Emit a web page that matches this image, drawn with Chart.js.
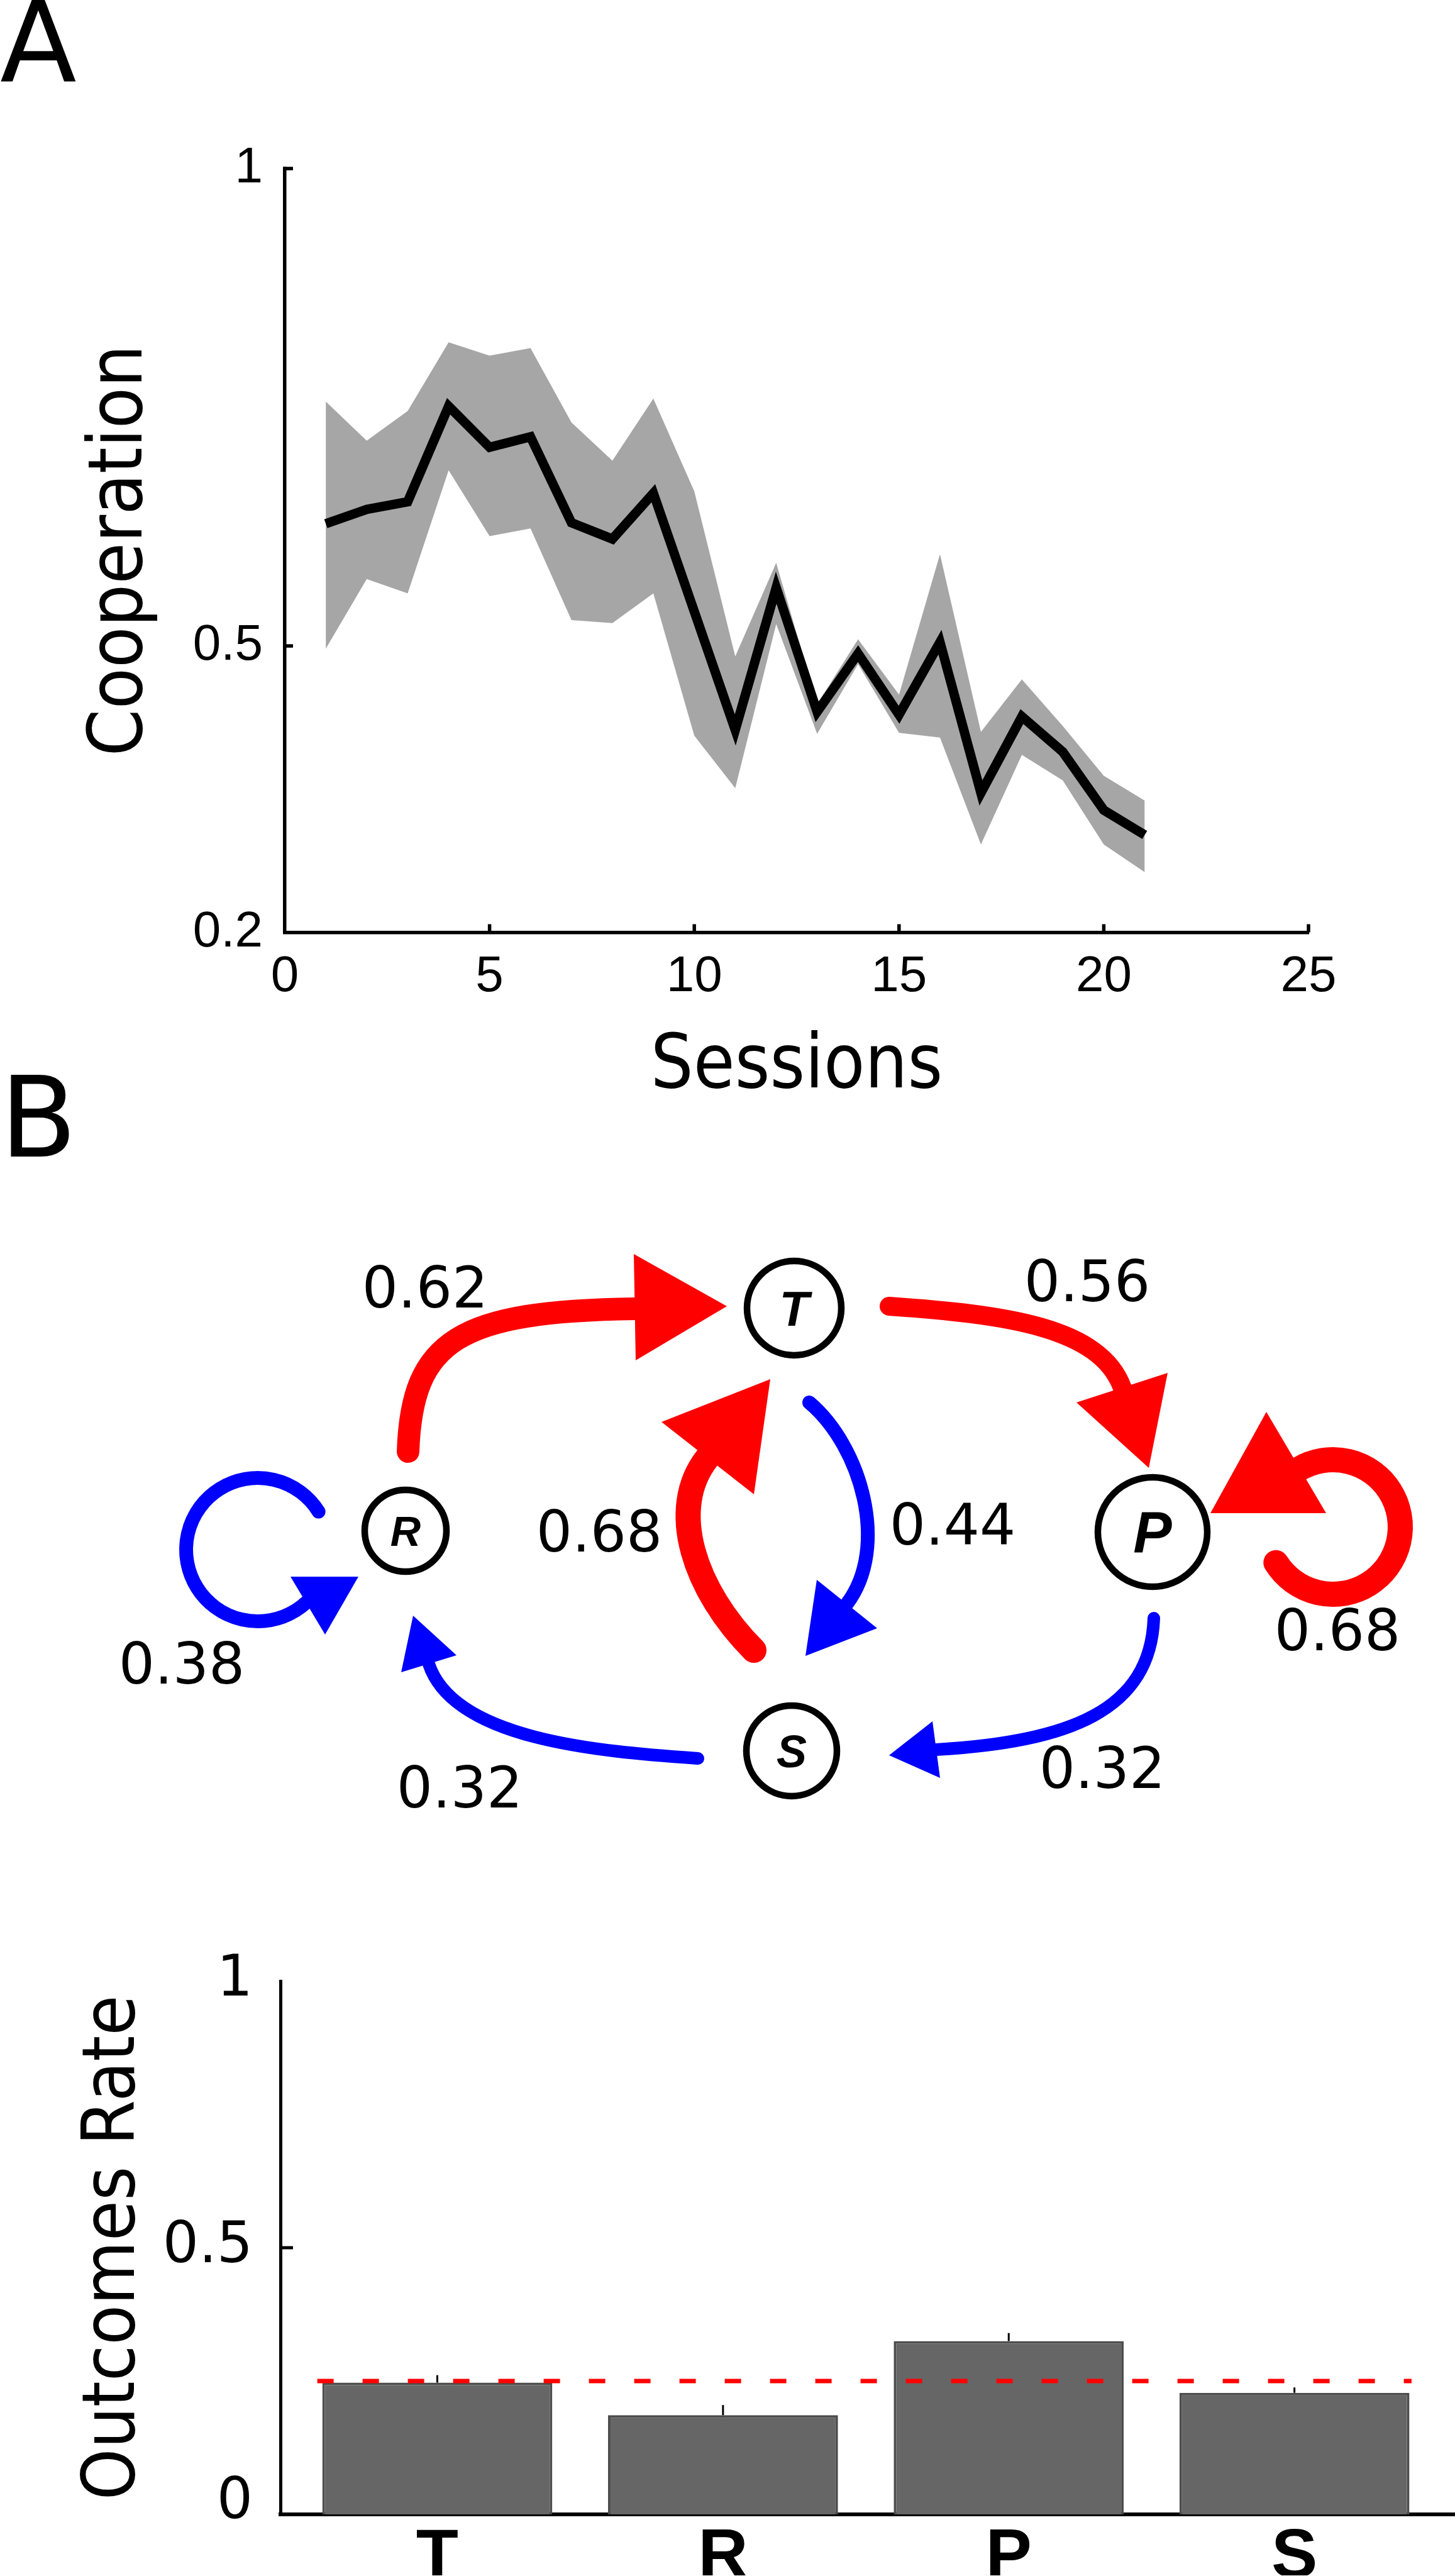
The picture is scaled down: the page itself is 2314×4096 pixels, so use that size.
<!DOCTYPE html>
<html>
<head>
<meta charset="utf-8">
<script src="https://cdn.jsdelivr.net/npm/chart.js@4.4.1/dist/chart.umd.min.js"></script>
<style>
  html, body { margin: 0; padding: 0; background: #fff; }
  body { width: 2314px; height: 4096px; position: relative; overflow: hidden; }
  canvas { position: absolute; left: 0; }
</style>
</head>
<body>
<canvas id="coopChart" width="2314" height="1800" style="top:0px"></canvas>
<canvas id="graphChart" width="2314" height="1400" style="top:1650px"></canvas>
<canvas id="outcomeChart" width="2314" height="1046" style="top:3050px"></canvas>
<script>
// ---- Panel A: cooperation per session ----
const sessions = [1, 2, 3, 4, 5, 6, 7, 8, 9, 10, 11, 12, 13, 14, 15, 16, 17, 18, 19, 20, 21];
const coopMean  = [0.628, 0.643, 0.651, 0.751, 0.708, 0.719, 0.629, 0.612, 0.660, 0.536, 0.412, 0.561, 0.431, 0.492, 0.428, 0.504, 0.346, 0.426, 0.389, 0.328, 0.302];
const coopUpper = [0.756, 0.715, 0.746, 0.818, 0.804, 0.812, 0.734, 0.694, 0.759, 0.662, 0.489, 0.587, 0.439, 0.507, 0.449, 0.596, 0.410, 0.465, 0.416, 0.364, 0.338];
const coopLower = [0.497, 0.570, 0.555, 0.684, 0.615, 0.623, 0.527, 0.524, 0.555, 0.406, 0.351, 0.523, 0.408, 0.481, 0.409, 0.404, 0.292, 0.386, 0.359, 0.292, 0.263];
const coopTicksX = [0, 5, 10, 15, 20, 25];
const coopTicksY = [0.2, 0.5, 1];

// ---- Panel B: transitions between outcomes ----
const states   = ["T", "R", "P", "S"];
const edgeFrom = ["R", "T", "T", "S", "P", "S", "R", "P"];
const edgeTo   = ["T", "P", "S", "T", "S", "R", "R", "P"];
const edgeProb = [0.62, 0.56, 0.44, 0.68, 0.32, 0.32, 0.38, 0.68];

// ---- Outcome rates ----
const outcomeLabels = ["T", "R", "P", "S"];
const outcomeRates  = [0.247, 0.186, 0.325, 0.228];
const outcomeErr    = [0.014, 0.019, 0.015, 0.010];
const chanceLevel   = 0.25;
const rateTicks     = [0, 0.5, 1];

const SANS = '"DejaVu Sans"';
const SANS_COND = '"DejaVu Sans Condensed", "DejaVu Sans"';
const HELV = '"Liberation Sans", Arial';

// diagram layout (page pixel units on the hidden scales)
const nodeLayout = {
    T: { x: 1263, y: 2080, r: 75, font: 77 },
    R: { x: 645,  y: 2434, r: 65, font: 67 },
    P: { x: 1833, y: 2436, r: 87, font: 92 },
    S: { x: 1259, y: 2784, r: 72, font: 72 }
};
const edgeLayout = [
    { color: "#ff0000", width: 36, path: [[649, 2308], [655, 2130], [730, 2085], [1011, 2081]], tip: [1156, 2077], base: [[1008, 1994], [1011, 2163]], label: [676, 2046] },
    { color: "#ff0000", width: 30, path: [[1414, 2077], [1600, 2090], [1750, 2110], [1785, 2207]], tip: [1827, 2334], base: [[1712, 2230], [1857, 2183]], label: [1729, 2036] },
    { color: "#0000ff", width: 22, path: [[1287, 2230], [1370, 2300], [1415, 2460], [1347, 2550]], tip: [1281, 2633], base: [[1299, 2512], [1395, 2589]], label: [1515, 2423] },
    { color: "#ff0000", width: 40, path: [[1199, 2624], [1105, 2530], [1060, 2400], [1125, 2318]], tip: [1225, 2193], base: [[1052, 2261], [1199, 2376]], label: [953, 2434] },
    { color: "#0000ff", width: 20, path: [[1835, 2573], [1830, 2720], [1700, 2770], [1489, 2782]], tip: [1414, 2791], base: [[1483, 2737], [1495, 2827]], label: [1753, 2810] },
    { color: "#0000ff", width: 20, path: [[1110, 2796], [950, 2785], [722, 2766], [682, 2646]], tip: [657, 2569], base: [[638, 2659], [726, 2632]], label: [731, 2841] },
    { color: "#0000ff", width: 22, loop: { c: [410, 2464], r: 114, a0: -32, a1: -313 }, tip: [517, 2599], base: [[462, 2507], [570, 2507]], label: [289, 2644] },
    { color: "#ff0000", width: 40, loop: { c: [2120, 2428], r: 107, a0: 148, a1: -121 }, tip: [1925, 2406], base: [[2014, 2245], [2109, 2406]], label: [2127, 2591] }
];

// inward tick marks + panel letter
const innerTicks = {
    id: "innerTicks",
    afterDraw(chart, args, opts) {
        const ctx = chart.ctx;
        const { left, bottom } = chart.chartArea;
        ctx.save();
        ctx.strokeStyle = "#000";
        ctx.lineWidth = opts.width || 5;
        (opts.x || []).forEach(v => {
            const px = chart.scales.x.getPixelForValue(v);
            ctx.beginPath();
            ctx.moveTo(px, bottom);
            ctx.lineTo(px, bottom - opts.len);
            ctx.stroke();
        });
        (opts.y || []).forEach(v => {
            const py = chart.scales.y.getPixelForValue(v);
            ctx.beginPath();
            ctx.moveTo(left, py);
            ctx.lineTo(left + opts.len, py);
            ctx.stroke();
        });
        if (opts.letter) {
            ctx.fillStyle = "#000";
            ctx.font = "178px " + SANS;
            ctx.textAlign = "left";
            ctx.textBaseline = "alphabetic";
            ctx.fillText(opts.letter, 0, opts.letterY);
        }
        ctx.restore();
    }
};

// Panel A chart
const toXY = arr => sessions.map((s, i) => ({ x: s, y: arr[i] }));

new Chart(document.getElementById("coopChart"), {
    type: "line",
    data: {
        datasets: [
            { label: "Mean", data: toXY(coopMean), borderColor: "#000", borderWidth: 15, pointRadius: 0, tension: 0, fill: false, borderJoinStyle: "miter" },
            { label: "Upper", data: toXY(coopUpper), borderColor: "rgba(0,0,0,0)", borderWidth: 0, pointRadius: 0, tension: 0, backgroundColor: "#a6a6a6", fill: "+1" },
            { label: "Lower", data: toXY(coopLower), borderColor: "rgba(0,0,0,0)", borderWidth: 0, pointRadius: 0, tension: 0, fill: false }
        ]
    },
    options: {
        responsive: false,
        animation: false,
        devicePixelRatio: 1,
        events: [],
        layout: { autoPadding: false, padding: { top: 268, right: 233, left: 0, bottom: 0 } },
        plugins: {
            legend: { display: false },
            tooltip: { enabled: false },
            innerTicks: { x: [5, 10, 15, 20, 25], y: [0.5, 1], len: 13, width: 5.5, letter: "A", letterY: 129 }
        },
        scales: {
            x: {
                type: "linear", min: 0, max: 25,
                afterFit(s) { s.height = 317.5; },
                afterBuildTicks(s) { s.ticks = coopTicksX.map(v => ({ value: v })); },
                grid: { display: false, drawTicks: false },
                border: { display: true, color: "#000", width: 5.5 },
                ticks: { color: "#000", padding: 23, maxRotation: 0, autoSkip: false, font: { family: HELV, size: 80 }, callback: v => String(v) },
                title: { display: true, text: "Sessions", color: "#000", font: { family: SANS_COND, size: 119 }, padding: { top: 0, bottom: 31 } }
            },
            y: {
                type: "linear", min: 0.2, max: 1,
                afterFit(s) { s.width = 453; },
                afterBuildTicks(s) { s.ticks = coopTicksY.map(v => ({ value: v })); },
                grid: { display: false, drawTicks: false },
                border: { display: true, color: "#000", width: 5.5 },
                ticks: { color: "#000", padding: 35, font: { family: HELV, size: 80 }, callback: v => String(v) },
                title: { display: true, text: "Cooperation", color: "#000", font: { family: SANS_COND, size: 119 }, padding: { top: 123, bottom: 0 } }
            }
        }
    },
    plugins: [innerTicks]
});

// Panel B: transition diagram drawn on hidden linear scales
const graphArrows = {
    id: "graphArrows",
    beforeDatasetsDraw(chart) {
        const ctx = chart.ctx;
        const xs = chart.scales.x, ys = chart.scales.y;
        const P = p => [xs.getPixelForValue(p[0]), ys.getPixelForValue(p[1])];
        ctx.save();
        edgeLayout.forEach(e => {
            ctx.strokeStyle = e.color;
            ctx.fillStyle = e.color;
            ctx.lineWidth = e.width;
            ctx.lineCap = "round";
            ctx.beginPath();
            if (e.loop) {
                const c = P(e.loop.c);
                const r = xs.getPixelForValue(e.loop.r) - xs.getPixelForValue(0);
                ctx.arc(c[0], c[1], r, e.loop.a0 * Math.PI / 180, e.loop.a1 * Math.PI / 180, true);
            } else {
                const p = e.path.map(P);
                ctx.moveTo(p[0][0], p[0][1]);
                ctx.bezierCurveTo(p[1][0], p[1][1], p[2][0], p[2][1], p[3][0], p[3][1]);
            }
            ctx.stroke();
            const t = P(e.tip), b0 = P(e.base[0]), b1 = P(e.base[1]);
            ctx.beginPath();
            ctx.moveTo(b0[0], b0[1]);
            ctx.lineTo(t[0], t[1]);
            ctx.lineTo(b1[0], b1[1]);
            ctx.closePath();
            ctx.fill();
        });
        ctx.restore();
    },
    afterDatasetsDraw(chart) {
        const ctx = chart.ctx;
        const xs = chart.scales.x, ys = chart.scales.y;
        ctx.save();
        ctx.fillStyle = "#000";
        ctx.textAlign = "center";
        ctx.textBaseline = "alphabetic";
        // state letters
        states.forEach(s => {
            const n = nodeLayout[s];
            ctx.font = "italic bold " + n.font + "px " + HELV;
            ctx.fillText(s, xs.getPixelForValue(n.x), ys.getPixelForValue(n.y) + n.font * 0.358);
        });
        // transition probabilities
        ctx.font = "90px " + SANS;
        edgeProb.forEach((p, i) => {
            const l = edgeLayout[i].label;
            ctx.fillText(p.toFixed(2), xs.getPixelForValue(l[0]), ys.getPixelForValue(l[1]) + 33);
        });
        // panel letter
        ctx.textAlign = "left";
        ctx.font = "178px " + SANS;
        ctx.fillText("B", xs.getPixelForValue(0), ys.getPixelForValue(1839));
        ctx.restore();
    }
};

new Chart(document.getElementById("graphChart"), {
    type: "scatter",
    data: {
        datasets: [{
            label: "States",
            data: states.map(s => ({ x: nodeLayout[s].x, y: nodeLayout[s].y })),
            pointRadius: states.map(s => nodeLayout[s].r),
            pointBackgroundColor: "#fff",
            pointBorderColor: "#000",
            pointBorderWidth: 10.5
        }]
    },
    options: {
        responsive: false,
        animation: false,
        devicePixelRatio: 1,
        events: [],
        layout: { autoPadding: false, padding: 0 },
        plugins: { legend: { display: false }, tooltip: { enabled: false } },
        scales: {
            x: { type: "linear", display: false, min: 0, max: 2314 },
            y: { type: "linear", display: false, min: 1650, max: 3050, reverse: true }
        }
    },
    plugins: [graphArrows]
});

// Outcome rates bar chart
const barExtras = {
    id: "barExtras",
    afterDatasetsDraw(chart) {
        const ctx = chart.ctx;
        const xs = chart.scales.x, ys = chart.scales.y;
        ctx.save();
        // error bars (upper half)
        ctx.strokeStyle = "#000";
        ctx.lineWidth = 3;
        outcomeRates.forEach((v, i) => {
            const px = xs.getPixelForValue(i + 1);
            ctx.beginPath();
            ctx.moveTo(px, ys.getPixelForValue(v));
            ctx.lineTo(px, ys.getPixelForValue(v + outcomeErr[i]));
            ctx.stroke();
        });
        // chance level
        ctx.strokeStyle = "#ff0000";
        ctx.lineWidth = 7;
        ctx.setLineDash([26, 46]);
        const py = ys.getPixelForValue(chanceLevel);
        ctx.beginPath();
        ctx.moveTo(xs.getPixelForValue(0.58), py);
        ctx.lineTo(xs.getPixelForValue(4.41), py);
        ctx.stroke();
        ctx.restore();
    }
};

new Chart(document.getElementById("outcomeChart"), {
    type: "bar",
    data: {
        datasets: [{
            label: "Outcomes Rate",
            data: outcomeRates.map((v, i) => ({ x: i + 1, y: v })),
            backgroundColor: "#666666",
            borderColor: "#4d4d4d",
            borderWidth: 4,
            barPercentage: 0.805,
            categoryPercentage: 1
        }]
    },
    options: {
        responsive: false,
        animation: false,
        devicePixelRatio: 1,
        events: [],
        layout: { autoPadding: false, padding: { top: 100, right: 0, left: 0, bottom: 0 } },
        plugins: {
            legend: { display: false },
            tooltip: { enabled: false },
            innerTicks: { y: [0.5], len: 20, width: 5 }
        },
        scales: {
            x: {
                type: "linear", min: 0.451, max: 4.562, offset: false,
                afterFit(s) { s.height = 97; },
                afterBuildTicks(s) { s.ticks = outcomeLabels.map((l, i) => ({ value: i + 1 })); },
                grid: { display: false, drawTicks: false },
                border: { display: true, color: "#000", width: 6 },
                ticks: { color: "#000", padding: 4, maxRotation: 0, autoSkip: false, font: { family: HELV, size: 110, weight: "bold" }, callback: v => outcomeLabels[Math.round(v) - 1] }
            },
            y: {
                type: "linear", min: 0, max: 1,
                afterFit(s) { s.width = 446; },
                afterBuildTicks(s) { s.ticks = rateTicks.map(v => ({ value: v === 0 ? 0.021 : v })); },
                grid: { display: false, drawTicks: false },
                border: { display: true, color: "#000", width: 5 },
                ticks: { color: "#000", padding: 44, font: { family: SANS, size: 90 }, callback: v => String(Math.round(v * 10) / 10) },
                title: { display: true, text: "Outcomes Rate", color: "#000", font: { family: SANS_COND, size: 116 }, padding: { top: 113, bottom: 0 } }
            }
        }
    },
    plugins: [innerTicks, barExtras]
});
</script>
</body>
</html>
